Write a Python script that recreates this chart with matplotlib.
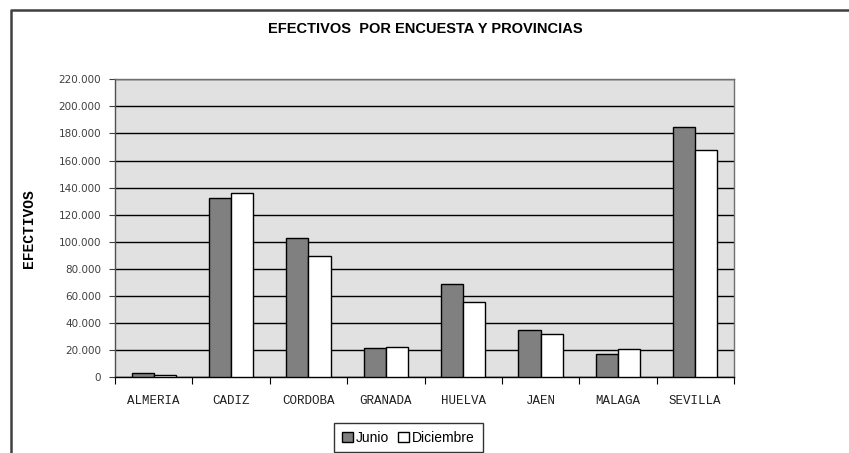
"""Efectivos por encuesta y provincias: grouped bars, Junio vs Diciembre."""
import numpy as np
import matplotlib.pyplot as plt
from matplotlib.lines import Line2D
from matplotlib.ticker import FuncFormatter, FixedLocator

PROVINCIAS = ['ALMERIA', 'CADIZ', 'CORDOBA', 'GRANADA', 'HUELVA', 'JAEN', 'MALAGA', 'SEVILLA']
JUNIO = [3000, 132000, 103000, 21500, 69000, 34700, 17200, 184600]
DICIEMBRE = [1700, 136000, 89600, 22400, 55600, 31700, 20700, 168000]
SERIES = ['Junio', 'Diciembre']


def miles(value, pos):
    return f'{int(value):,}'.replace(',', '.')


if __name__ == '__main__':
    fig = plt.figure(figsize=(8.49, 4.53), dpi=100)
    ax = fig.add_axes([0.1355, 0.1678, 0.729, 0.657])

    x = np.arange(len(PROVINCIAS))
    width = 0.285
    ax.bar(x - width / 2, JUNIO, width=width, color='#808080', edgecolor='black',
           linewidth=1.0, label=SERIES[0], zorder=3)
    ax.bar(x + width / 2, DICIEMBRE, width=width, color='white', edgecolor='black',
           linewidth=1.0, label=SERIES[1], zorder=3)

    ax.set_facecolor('#e1e1e1')
    ax.set_xlim(-0.5, len(PROVINCIAS) - 0.5)
    ax.set_ylim(0, 220000)
    ax.set_yticks(np.arange(0, 220001, 20000))
    ax.yaxis.set_major_formatter(FuncFormatter(miles))
    ax.yaxis.grid(True, color='black', linewidth=1.0, zorder=1)
    ax.tick_params(axis='y', labelsize=7.5, labelcolor='#404040', length=4,
                   direction='out', color='#404040', pad=6)

    # category labels centred, tick marks between groups
    ax.xaxis.set_major_locator(FixedLocator(np.arange(-0.5, len(PROVINCIAS), 1.0)))
    ax.xaxis.set_minor_locator(FixedLocator(x))
    ax.set_xticklabels([])
    ax.set_xticklabels(PROVINCIAS, minor=True, fontsize=9, family='Liberation Mono',
                       color='#202020')
    ax.tick_params(axis='x', which='major', length=5, direction='out', color='black')
    ax.tick_params(axis='x', which='minor', length=0, pad=13)

    for side in ['top', 'right']:
        ax.spines[side].set_color('#707070')
    ax.spines['left'].set_color('#505050')
    ax.spines['bottom'].set_color('black')
    for spine in ax.spines.values():
        spine.set_linewidth(1.0)

    ax.set_ylabel('EFECTIVOS', fontsize=10.5, fontweight='bold', family='Liberation Mono',
                  labelpad=16)

    fig.text(0.501, 0.937, 'EFECTIVOS  POR ENCUESTA Y PROVINCIAS', ha='center', va='center',
             fontsize=10.5, fontweight='bold', family='Liberation Sans')

    fig.legend(loc='upper center', bbox_to_anchor=(0.481, 0.066), ncol=2, frameon=True,
               fancybox=False, edgecolor='black', prop={'family': 'Liberation Sans', 'size': 10},
               handlelength=0.8, handleheight=0.8, handletextpad=0.25, columnspacing=0.6,
               borderpad=0.55, borderaxespad=0)

    # outer chart frame: only top and left edges are visible in the crop
    frame_x = [11 / 849, 11 / 849, 1.0]
    frame_y = [0.0, 1 - 10 / 453, 1 - 10 / 453]
    fig.add_artist(Line2D(frame_x, frame_y, transform=fig.transFigure,
                          color='#404040', linewidth=1.8))

    fig.savefig('out.png', dpi=100)
    plt.close(fig)
